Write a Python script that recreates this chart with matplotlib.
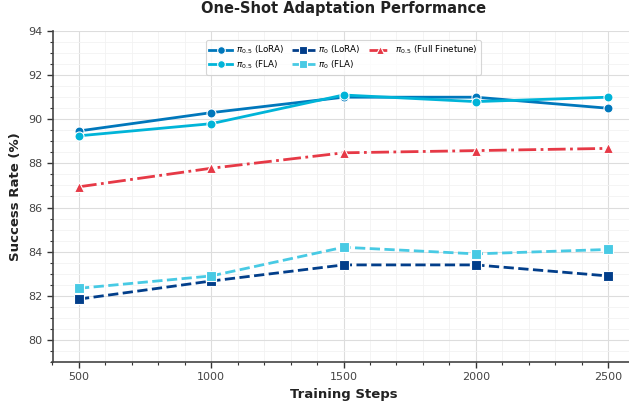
import matplotlib
matplotlib.use("Agg")
import matplotlib.pyplot as plt
from matplotlib.ticker import MultipleLocator

steps = [500, 1000, 1500, 2000, 2500]
pi05_lora = [89.47, 90.3, 91.0, 91.0, 90.5]
pi05_fla = [89.25, 89.8, 91.1, 90.8, 91.0]
pi0_lora = [81.85, 82.67, 83.4, 83.4, 82.9]
pi0_fla = [82.34, 82.9, 84.2, 83.9, 84.1]
pi05_full = [86.94, 87.78, 88.48, 88.58, 88.68]

series = [
    (r"$\pi_{0.5}$ (LoRA)", pi05_lora, "#0077BB", "-", "o"),
    (r"$\pi_{0.5}$ (FLA)", pi05_fla, "#00B4D8", "-", "o"),
    (r"$\pi_{0}$ (LoRA)", pi0_lora, "#023E8A", "--", "s"),
    (r"$\pi_{0}$ (FLA)", pi0_fla, "#48CAE4", "--", "s"),
    (r"$\pi_{0.5}$ (Full Finetune)", pi05_full, "#E63946", "-.", "^"),
]

plt.rcParams['font.family'] = ['DejaVu Sans']
fig = plt.figure(figsize=(6.29, 4.08), dpi=100)
ax = fig.add_axes([52.5/629, 46/408, 582/629, 331/408])

for label, vals, color, ls, mk in series:
    ax.plot(steps, vals, linestyle=ls, marker=mk, color=color, label=label,
            linewidth=2, markersize=6.5,
            markeredgecolor="white", markeredgewidth=0.8, zorder=3)

ax.set_xlim(400, 2600)
ax.set_ylim(79, 94)
ax.set_xticks(steps)
ax.set_yticks(range(80, 95, 2))
ax.xaxis.set_minor_locator(MultipleLocator(100))
ax.yaxis.set_minor_locator(MultipleLocator(0.5))
ax.grid(True, which="major", color="#dddddd", linewidth=0.8, zorder=0)
ax.grid(True, which="minor", color="#f2f2f2", linewidth=0.6, zorder=0)
ax.set_axisbelow(True)

for s in ["top", "right"]:
    ax.spines[s].set_visible(False)
for s in ["left", "bottom"]:
    ax.spines[s].set_color("#444444")
    ax.spines[s].set_linewidth(1.2)

ax.tick_params(axis="both", which="major", labelsize=8, labelcolor="#444444",
               color="#333333", length=4, width=1)
ax.tick_params(axis="both", which="minor", color="#333333", length=2.5, width=0.8)

ax.set_xlabel("Training Steps", fontsize=9.5, fontweight="bold", color="#222222")
ax.set_ylabel("Success Rate (%)", fontsize=9.5, fontweight="bold", color="#222222")
ax.set_title("One-Shot Adaptation Performance", fontsize=10.5, fontweight="bold",
             color="#222222", pad=13)

leg = ax.legend(loc="upper center", bbox_to_anchor=(0.5, 0.985), ncol=3,
                fontsize=6.3, frameon=True, handlelength=2.6, columnspacing=0.9,
                handletextpad=0.4, borderpad=0.4, labelspacing=0.25,
                markerscale=0.85)
leg.get_frame().set_edgecolor("#cccccc")
leg.get_frame().set_linewidth(0.8)

fig.savefig("out.png", dpi=100)
